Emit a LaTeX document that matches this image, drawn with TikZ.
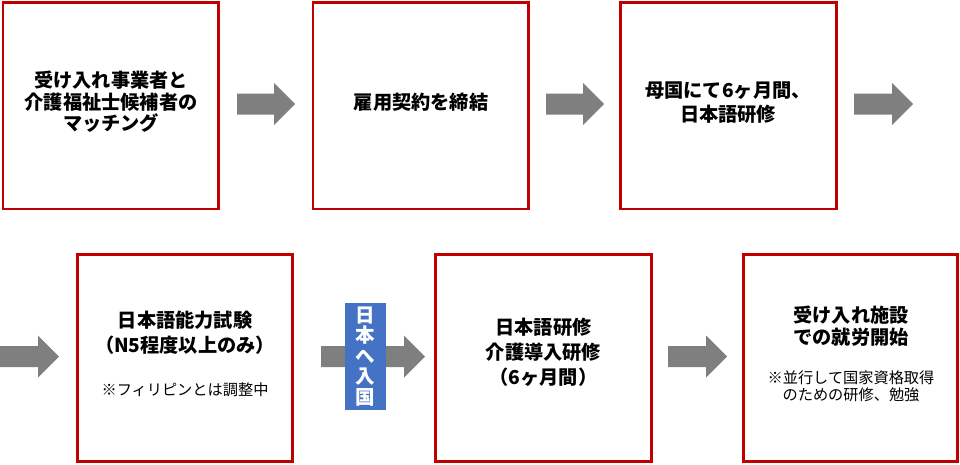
\documentclass[tikz,border=0pt]{standalone}
\usepackage{fontspec}
\setmainfont{Noto Sans CJK JP}
\definecolor{boxred}{HTML}{C00000}
\definecolor{arrowgray}{HTML}{7F7F7F}
\definecolor{entryblue}{HTML}{4472C4}
\newcommand\blkarrow[4]{% x1, x2, yc, name
  \fill[arrowgray] ({#1},{#3-10.5}) -- ({#2-21},{#3-10.5}) -- ({#2-21},{#3-21}) -- ({#2},{#3}) -- ({#2-21},{#3+21}) -- ({#2-21},{#3+10.5}) -- ({#1},{#3+10.5}) -- cycle;
  \coordinate (#4) at ({(#1+#2)/2},{#3});}
\tikzset{
  stepbox/.style={draw=boxred, line width=2.7pt, fill=white, minimum width=215.5pt, minimum height=206.5pt, inner sep=0pt, outer sep=0pt},
  titletext/.style={font=\bfseries\fontsize{19.2}{#1}\selectfont, align=center, inner sep=0pt},
  titletext/.default=22,
  notetext/.style={font=\fontsize{15.2}{16.7}\selectfont, align=center, inner sep=0pt},
  entrybox/.style={fill=entryblue, text=white, minimum width=41pt, minimum height=107pt, inner sep=0pt, align=center, font=\bfseries\fontsize{19.5}{20.5}\selectfont},
}
\begin{document}
\begin{tikzpicture}[x=1pt,y=-1pt]
\useasboundingbox[fill=white] (0,0) rectangle (960,464);
% boxes
\node[stepbox] (b1) at (110.75,105.75) {};
\node[stepbox] (b2) at (420.75,105.75) {};
\node[stepbox] (b3) at (728.5,105.75) {};
\node[stepbox] (b4) at (185,358) {};
\node[stepbox] (b5) at (543.5,358) {};
\node[stepbox, minimum width=213.5pt] (b6) at (850.5,358) {};
% arrows
\blkarrow{237}{295}{104}{a1}
\blkarrow{546}{604}{104}{a2}
\blkarrow{854}{913}{104}{a3}
\blkarrow{0}{59}{356.5}{a4}
\blkarrow{321}{425}{356.5}{a5}
\blkarrow{668}{727}{356.5}{a6}
% entry label
\node[entrybox] (jp) at (365.5,356.5) {日\\本\\へ\\入\\国};
% texts
\node[titletext=21.7] (t1) at (111,102) {受け入れ事業者と\\介護福祉士候補者の\\マッチング};
\node[titletext] (t2) at (421,102) {雇用契約を締結};
\node[titletext=23.5] (t3) at (728,102.5) {母国にて6ヶ月間、\\日本語研修};
\node[titletext=25] (t4) at (185,333) {日本語能力試験\\（N5程度以上のみ）};
\node[notetext] (n4) at (185,389.5) {※フィリピンとは調整中};
\node[titletext=25] (t5) at (543.5,352.5) {日本語研修\\介護導入研修\\（6ヶ月間）};
\node[titletext=21.7] (t6) at (851,326) {受け入れ施設\\での就労開始};
\node[notetext] (n6) at (851,386) {※並行して国家資格取得\\のための研修、勉強};
\end{tikzpicture}
\end{document}
